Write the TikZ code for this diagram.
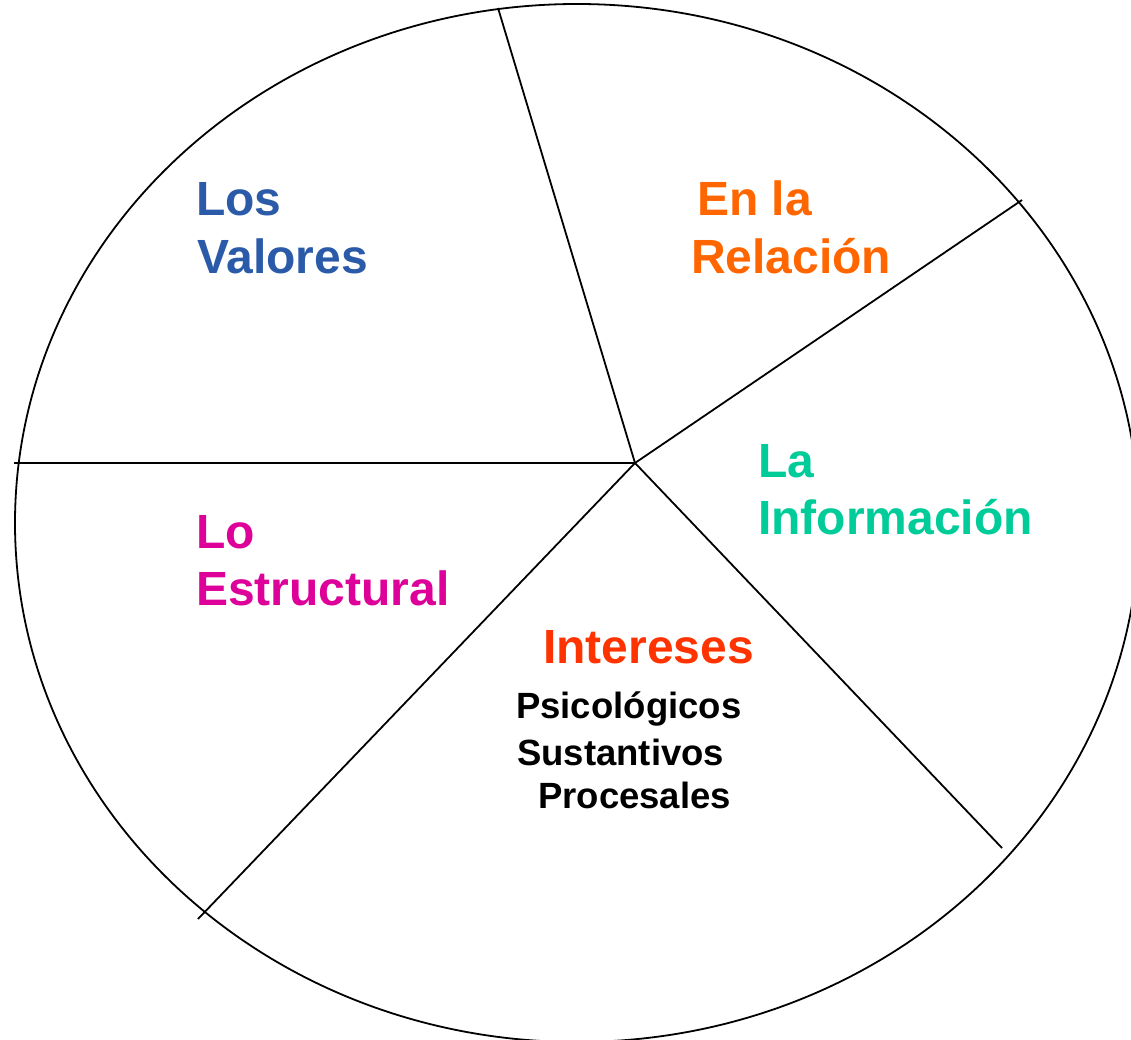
\documentclass[tikz,border=0pt]{standalone}
\usepackage{fontspec}
\setmainfont{Liberation Sans}
\begin{document}
\begin{tikzpicture}[x=1pt,y=-1pt,
  rim/.style={line width=1.8pt,black},
  spoke/.style={line width=1.8pt,black},
  big/.style={anchor=base west,inner sep=0pt,font=\fontsize{48}{57}\selectfont\bfseries},
  small/.style={anchor=base west,inner sep=0pt,font=\fontsize{36.5}{40}\selectfont\bfseries,text=black}]
\definecolor{cblue}{HTML}{2B5BA8}
\definecolor{corange}{HTML}{FF6600}
\definecolor{cteal}{HTML}{00CC99}
\definecolor{cmag}{HTML}{DD0099}
\definecolor{cred}{HTML}{FF3300}
\useasboundingbox (0,0) rectangle (1131,1040);
\clip (0,0) rectangle (1131,1040);
\draw[rim] (577,523) ellipse [x radius=562, y radius=519];
\coordinate (c) at (635,463);
\coordinate (pl) at (14,463);
\coordinate (pt) at (498,8);
\coordinate (pr) at (1022,200);
\coordinate (pd) at (1002,848);
\coordinate (pb) at (198,919);
\draw[spoke,line width=2.6pt] (c) -- (pl);
\draw[spoke] (c) -- (pt);
\draw[spoke] (c) -- (pr);
\draw[spoke] (c) -- (pd);
\draw[spoke] (c) -- (pb);
\node[big,text=cblue] (los) at (196,216) {Los};
\node[big,text=cblue] (val) at (197,273) {Valores};
\node[big,text=corange] (enla) at (697,216) {En la};
\node[big,text=corange] (rel) at (691,273) {Relación};
\node[big,text=cteal] (la) at (758,477) {La};
\node[big,text=cteal] (inf) at (758,534) {Información};
\node[big,text=cmag] (lo) at (196,548) {Lo};
\node[big,text=cmag] (est) at (196,605) {Estructural};
\node[big,text=cred] (int) at (543,663) {Intereses};
\node[small] (psi) at (516,718) {Psicológicos};
\node[small] (sus) at (517,765) {Sustantivos};
\node[small] (pro) at (538,808) {Procesales};
\end{tikzpicture}
\end{document}
